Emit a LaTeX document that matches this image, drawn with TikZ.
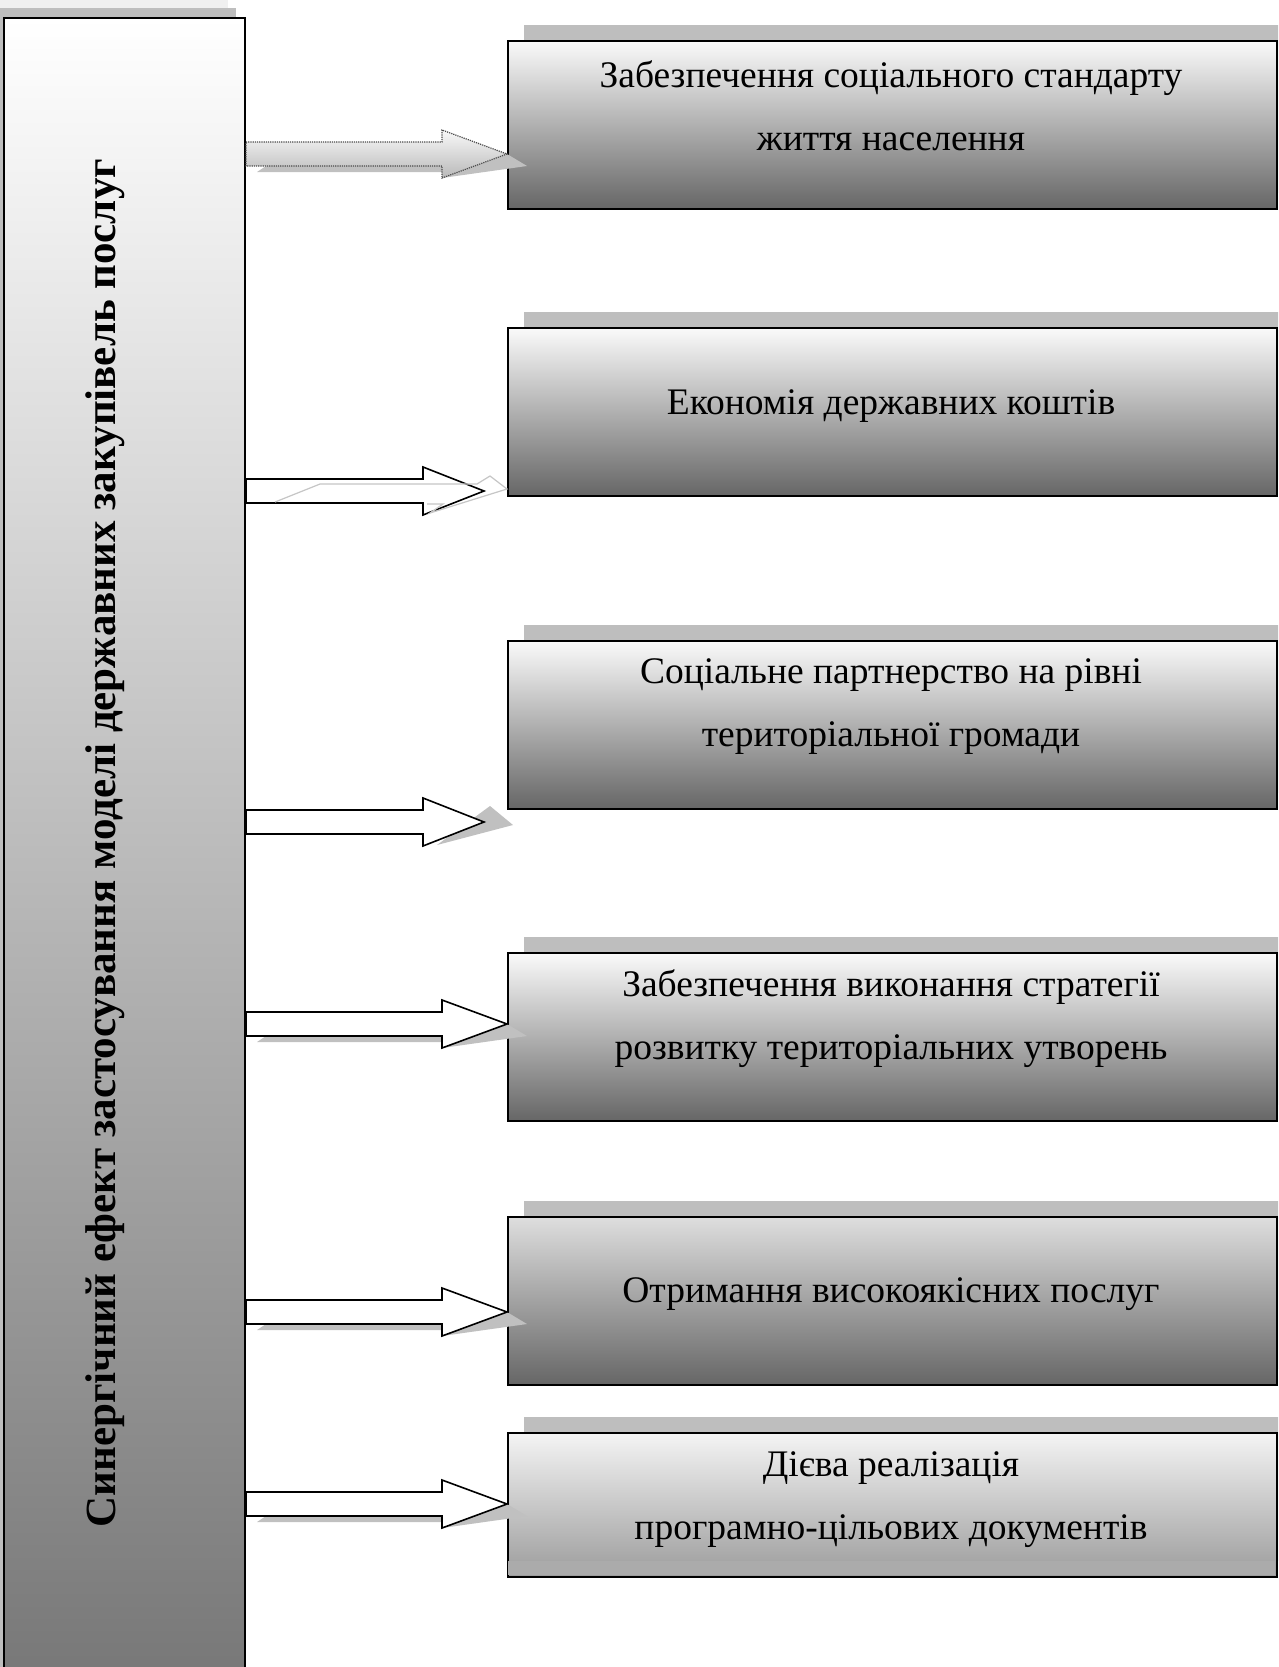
\documentclass[tikz,border=0pt]{standalone}
\usepackage{fontspec}
\setmainfont{Liberation Serif}
\usetikzlibrary{calc,shadows}
\definecolor{shd}{RGB}{190,190,190}
\definecolor{shdlight}{RGB}{240,240,240}
\definecolor{boxtop}{RGB}{250,250,250}
\definecolor{boxbot}{RGB}{102,102,102}
\definecolor{barbot}{RGB}{118,118,118}
\definecolor{arrshadow}{RGB}{192,192,192}
\newcommand\blockarrow[4][]{%
  \path[#1] let \p1=(#2), \p2=(#3) in
   (\x1,\y1+12pt) -- (\x2-#4,\y1+12pt) -- (\x2-#4,\y1+24pt) -- (\x2,\y1)
   -- (\x2-#4,\y1-24pt) -- (\x2-#4,\y1-12pt) -- (\x1,\y1-12pt) -- cycle;}
\newcommand\arrowshadow[2]{%
  \fill[arrshadow] let \p1=(#1), \p2=(#2) in
   (\x1+11pt,\y1-18pt) -- (\x2-65pt,\y1-18pt) -- (\x2-65pt,\y1-24pt)
   -- (\x2+20pt,\y1-12pt) -- (\x2,\y1) -- (\x2-65pt,\y1) -- (\x1+20pt,\y1-12pt) -- cycle;}
\begin{document}
\begin{tikzpicture}[x=1pt,y=-1pt,
  boxn/.style={draw=black, line width=2pt, minimum width=769pt, minimum height=168pt,
    anchor=north west, inner sep=0pt, top color=boxtop, bottom color=boxbot,
    drop shadow={shadow xshift=16pt, shadow yshift=16pt, opacity=1, fill=shd}},
  txt/.style={align=center, font=\fontsize{37.5}{63}\selectfont},
  plainarrow/.style={draw=black, line width=1.6pt, fill=white},
  fancyarrow/.style={draw=gray!60!black, densely dotted, line width=1.2pt,
    top color=gray!5, bottom color=gray!55}]
\useasboundingbox (0,0) rectangle (1278,1667);
\clip (0,0) rectangle (1278,1667);
\fill[white] (0,0) rectangle (1278,1667);
% left bar with its shadows
\fill[shdlight] (0,0) rectangle (228,1667);
\fill[shd] (0,8) rectangle (236,1667);
\node[draw=black, line width=2pt, anchor=north west, inner sep=0pt,
  minimum width=241pt, minimum height=1680pt, top color=white, bottom color=barbot]
  (bar) at (3,17) {};
\node[rotate=90, anchor=base, font=\bfseries\fontsize{43}{52}\selectfont] (title) at (115,843)
  {Синергічний ефект застосування моделі державних закупівель послуг};
% boxes
\node[boxn] (b1) at (507,40) {};
\node[boxn] (b2) at (507,327) {};
\node[boxn] (b3) at (507,640) {};
\node[boxn] (b4) at (507,952) {};
\node[boxn, top color={rgb,255:red,222;green,222;blue,222}] (b5) at (507,1216) {};
\node[boxn, minimum height=144pt, top color={rgb,255:red,244;green,244;blue,244},
  bottom color={rgb,255:red,156;green,156;blue,156}] (b6) at (507,1432) {};
\fill[gray!66] (508,1561) rectangle (1275,1575);
% texts
\node[txt] (t1) at (891,106) {Забезпечення соціального стандарту\\життя населення};
\node[txt] (t2) at (891,406) {Економія державних коштів};
\node[txt] (t3) at (891,707) {Соціальне партнерство на рівні\\територіальної громади};
\node[txt] (t4) at (891,1019) {Забезпечення виконання стратегії\\розвитку територіальних утворень};
\node[txt] (t5) at (891,1294) {Отримання високоякісних послуг};
\node[txt] (t6) at (891,1500) {Дієва реалізація\\програмно-цільових документів};
% arrow end points
\coordinate (s1) at (bar.east |- 0,154);  \coordinate (e1) at (b1.west |- 0,154);
\coordinate (s2) at (bar.east |- 0,491);  \coordinate (e2) at ($(b2.west |- 0,491)+(-23,0)$);
\coordinate (s3) at (bar.east |- 0,822);  \coordinate (e3) at ($(b3.west |- 0,822)+(-23,0)$);
\coordinate (s4) at (bar.east |- 0,1024); \coordinate (e4) at (b4.west |- 0,1024);
\coordinate (s5) at (bar.east |- 0,1312); \coordinate (e5) at (b5.west |- 0,1312);
\coordinate (s6) at (bar.east |- 0,1504); \coordinate (e6) at (b6.west |- 0,1504);
% arrow 1
\arrowshadow{s1}{e1}
\blockarrow[fancyarrow]{s1}{e1}{65pt}
% arrow 2
\blockarrow[plainarrow]{s2}{e2}{61pt}
\draw[gray!45, line width=1.2pt] (275,502) -- (320,484) -- (477,484) -- (490,476)
  -- (507,489) -- (430,513) -- (443,504) -- (427,504);
% arrow 3
\fill[arrshadow] (437,845) -- (490,806) -- (513,825) -- cycle;
\blockarrow[plainarrow]{s3}{e3}{61pt}
% arrows 4-6
\arrowshadow{s4}{e4}
\blockarrow[plainarrow]{s4}{e4}{65pt}
\arrowshadow{s5}{e5}
\blockarrow[plainarrow]{s5}{e5}{65pt}
\arrowshadow{s6}{e6}
\blockarrow[plainarrow]{s6}{e6}{65pt}
\end{tikzpicture}
\end{document}
